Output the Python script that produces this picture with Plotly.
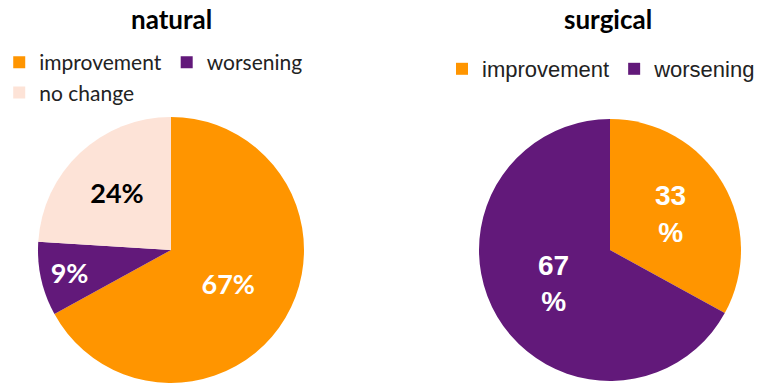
import plotly.graph_objects as go

# ---- data ----
labels_natural = ["improvement", "worsening", "no change"]
values_natural = [67, 9, 24]
labels_surgical = ["improvement", "worsening"]
values_surgical = [33, 67]
titles = ["natural", "surgical"]

ORANGE = "#FF9500"
PURPLE = "#62197A"
PINK = "#FDE3D7"

fig = go.Figure()

fig.add_trace(go.Pie(
    labels=labels_natural, values=values_natural,
    sort=False, direction="clockwise", rotation=0,
    marker=dict(colors=[ORANGE, PURPLE, PINK], line=dict(width=0)),
    texttemplate="%{value}%", textposition="inside",
    insidetextorientation="horizontal",
    insidetextfont=dict(family="Lato", size=27, weight="bold",
                        color=["white", "white", "black"]),
    domain=dict(x=[38/771, 304/771], y=[1-383/384, 1-117/384]),
    legend="legend", legendgroup="natural", hoverinfo="label+percent",
))

fig.add_trace(go.Pie(
    labels=labels_surgical, values=values_surgical,
    sort=False, direction="clockwise", rotation=0,
    marker=dict(colors=[ORANGE, PURPLE], line=dict(width=0)),
    texttemplate="%{value}<br>%", textposition="inside",
    insidetextorientation="horizontal",
    insidetextfont=dict(family="Liberation Sans", size=28, weight="bold",
                        color=["white", "white"]),
    domain=dict(x=[479/771, 741/771], y=[1-381/384, 1-119/384]),
    legend="legend2", legendgroup="surgical", hoverinfo="label+percent",
))

fig.update_layout(
    width=771, height=384,
    margin=dict(l=0, r=0, t=0, b=0, autoexpand=False),
    paper_bgcolor="white", plot_bgcolor="white",
    legend=dict(orientation="h", x=-0.001, xanchor="left",
                y=1-42/384, yanchor="top", bgcolor="rgba(0,0,0,0)",
                traceorder="normal",
                font=dict(family="Lato", size=21, color="#222"),
                itemclick=False, tracegroupgap=0),
    legend2=dict(orientation="h", x=442/771, xanchor="left",
                 y=1-48/384, yanchor="top", bgcolor="rgba(0,0,0,0)",
                 traceorder="normal",
                 font=dict(family="Liberation Sans", size=22, color="#222"),
                 itemclick=False, tracegroupgap=0),
    annotations=[
        dict(text="<b>" + titles[0] + "</b>", x=171/771, y=1-19/384,
             xref="paper", yref="paper", showarrow=False,
             xanchor="center", yanchor="middle",
             font=dict(family="Lato", size=26, color="black")),
        dict(text="<b>" + titles[1] + "</b>", x=608/771, y=1-19/384,
             xref="paper", yref="paper", showarrow=False,
             xanchor="center", yanchor="middle",
             font=dict(family="Lato", size=26, color="black")),
    ],
)

fig.write_html("out.html", config={"displayModeBar": False},
               post_script="document.body.style.margin='0';")
